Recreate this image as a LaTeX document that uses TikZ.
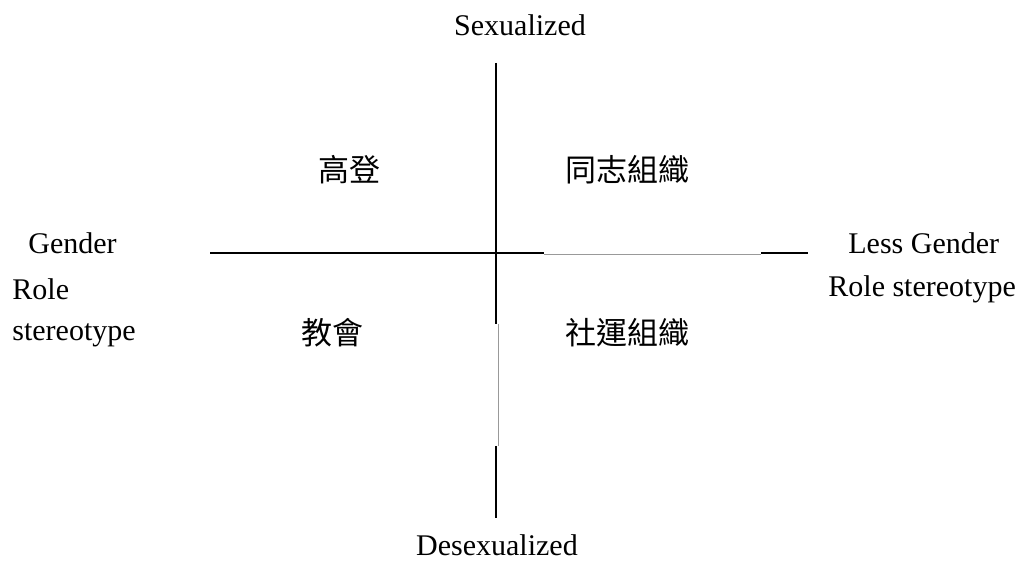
\documentclass[tikz,border=0pt]{standalone}
\usepackage{fontspec}
\setmainfont{Liberation Serif}
\newfontfamily\cjk{Noto Sans CJK TC}
\usepackage{tikz}
\usetikzlibrary{positioning}
\tikzset{%
	axislabel/.style = {inner sep=0pt, font=\fontsize{15}{18}\selectfont}, % Axis text
	quadlabel/.style = {inner sep=0pt, font=\cjk\fontsize{15.5}{18}\selectfont}, % Quadrant text
	axis/.style      = {line width=1pt, black},
	thinaxis/.style  = {line width=0.5pt, black!40},
	waypoint/.style  = {coordinate},
}
\begin{document}
\begin{tikzpicture}[x=0.5pt,y=-0.5pt]
	\useasboundingbox (0,0) rectangle (1035,566);
	% axis end points
	\node [waypoint] (top) at (496,63) {};
	\node [waypoint] (vmid1) at (496,324) {};
	\node [waypoint] (vmid2) at (496,446) {};
	\node [waypoint] (bot) at (496,518) {};
	\node [waypoint] (left) at (210,253) {};
	\node [waypoint] (hmid1) at (544,253) {};
	\node [waypoint] (hmid2) at (761,253) {};
	\node [waypoint] (right) at (808,253) {};
	
	\node [axislabel] (sex) at (520,25) {Sexualized};
	\node [axislabel] (desex) at (497,545) {Desexualized};
	\node [axislabel,anchor=west] (gen) at (28,243) {Gender};
	\node [axislabel,anchor=west] (role) at (12,289) {Role};
	\node [axislabel,anchor=west] (stereo) at (12,335) {stereotype};
	\node [axislabel,anchor=west] (less) at (848,243) {Less Gender};
	\node [axislabel,anchor=west] (lessrole) at (828,289) {Role stereotype};
	
	\node [quadlabel] (q1) at (349,170) {高登};
	\node [quadlabel] (q2) at (627,170) {同志組織};
	\node [quadlabel] (q3) at (332,333) {教會};
	\node [quadlabel] (q4) at (627,333) {社運組織};
	
	\draw[axis] (top) -- (vmid1);
	\draw[thinaxis] ([xshift=1]vmid1) -- ([xshift=1]vmid2);
	\draw[axis] (vmid2) -- (bot);
	\draw[axis] (left) -- (hmid1);
	\draw[thinaxis] ([yshift=-1]hmid1) -- ([yshift=-1]hmid2);
	\draw[axis] (hmid2) -- (right);
\end{tikzpicture}
\end{document}
